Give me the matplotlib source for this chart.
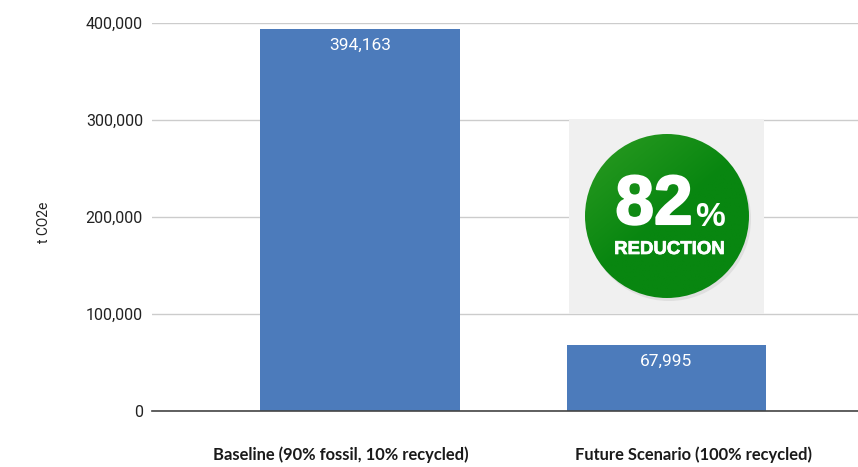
import matplotlib

matplotlib.use("Agg")
import matplotlib.pyplot as plt
import matplotlib.patheffects as pe
from matplotlib.patches import Circle, Rectangle
import numpy as np

W, H = 858, 467

# data
categories = ["Baseline (90% fossil, 10% recycled)", "Future Scenario (100% recycled)"]
values = [394163, 67995]
yticks = [0, 100000, 200000, 300000, 400000]

plt.rcParams["font.family"] = ["Roboto", "DejaVu Sans"]

fig = plt.figure(figsize=(W / 100, H / 100), dpi=100)
ax = fig.add_axes([152 / W, (H - 411) / H, (W - 152) / W, 388 / H])

x = np.arange(len(values))
bars = ax.bar(x, values, width=0.65, color="#4c7bbb", zorder=3)
ax.set_xlim(-0.679, 1.625)
ax.set_ylim(0, 400000)
ax.set_xticks([])
ax.set_yticks(yticks)
ax.set_yticklabels([f"{v:,}" for v in yticks], fontsize=11.5, color="#222222")
ax.tick_params(axis="y", length=0, pad=6.5)
ax.yaxis.grid(True, color="#cccccc", linewidth=1)
ax.set_axisbelow(True)
for side in ["top", "right", "left"]:
    ax.spines[side].set_visible(False)
ax.spines["bottom"].set_color("#444444")
ax.spines["bottom"].set_linewidth(1.2)
ax.spines["bottom"].set_zorder(4)

for rect, val in zip(bars, values):
    ax.annotate(f"{val:,}", (rect.get_x() + rect.get_width() / 2, val),
                xytext=(0, -12), textcoords="offset points", ha="center", va="center",
                color="white", fontsize=12.5, zorder=5)

# overlay in pixel coordinates for the pasted-on badge and the labels
ov = fig.add_axes([0, 0, 1, 1], facecolor="none")
ov.set_xlim(0, W)
ov.set_ylim(H, 0)
ov.axis("off")

ov.text(44, 222, "t CO2e", rotation=90, ha="center", va="center", fontsize=10, color="#222222")
label_x = [341, 693.5]
for lx, cat in zip(label_x, categories):
    ov.text(lx, 455, cat, ha="center", va="center", fontsize=11.9, fontweight="bold",
            family=["Lato", "DejaVu Sans"], color="#1a1a1a")

ov.add_patch(Rectangle((569, 119), 195, 195, color="#f0f0f0", linewidth=0, zorder=1))
ov.add_patch(Circle((669, 219), 82, color="#d4d4d4", linewidth=0, alpha=0.6, zorder=2))

cx, cy, r = 667, 216, 82
yy, xx = np.mgrid[cy - r:cy + r:200j, cx - r:cx + r:200j]
shade = np.clip(((cx - xx) * 0.45 + (cy - yy) * 0.55) / r, 0, 1) * 0.9
low = np.array([8, 134, 16]) / 255
high = np.array([48, 158, 36]) / 255
grad = low + shade[..., None] * (high - low)
im = ov.imshow(grad, extent=(cx - r, cx + r, cy + r, cy - r), zorder=3, aspect="auto")
im.set_clip_path(Circle((cx, cy), r, transform=ov.transData))
ov.set_xlim(0, W)
ov.set_ylim(H, 0)

heavy = [pe.withStroke(linewidth=1.5, foreground="white")]
ov.text(654, 206, "82", ha="center", va="center", fontsize=50, fontweight="bold",
        family=["Liberation Sans", "DejaVu Sans"], color="white", zorder=4, path_effects=heavy)
ov.text(710, 217, "%", ha="center", va="center", fontsize=24, fontweight="bold",
        family=["Liberation Sans", "DejaVu Sans"], color="white", zorder=4)
ov.text(669.5, 249.5, "REDUCTION", ha="center", va="center", fontsize=13.4, fontweight="bold",
        family=["Liberation Sans", "DejaVu Sans"], color="white", zorder=4,
        path_effects=[pe.withStroke(linewidth=0.5, foreground="white")])

fig.savefig("out.png", dpi=100)
